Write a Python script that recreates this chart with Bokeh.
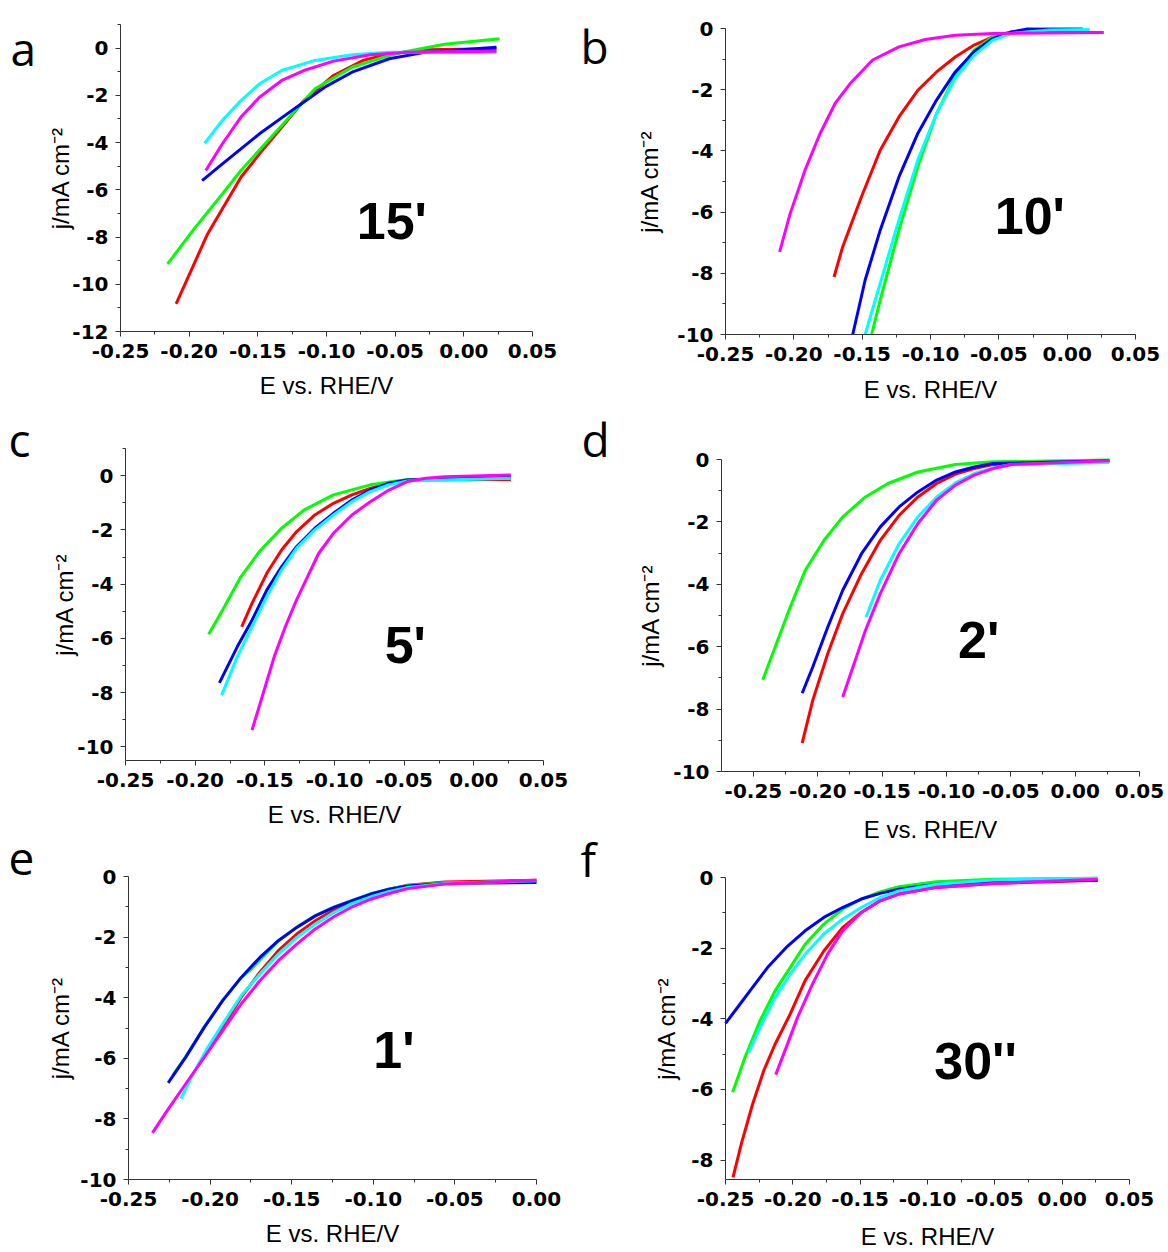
from bokeh.plotting import figure
from bokeh.models import FixedTicker, Label, Range1d, LinearAxis
from bokeh.embed import file_html
from bokeh.resources import INLINE

COLORS = {"red": "#FF0000", "green": "#00FF00", "blue": "#0000FF", "cyan": "#00FFFF", "magenta": "#FF00FF"}
ORDER = ["red", "green", "blue", "cyan", "magenta"]

# ---------------- panel a (15') ----------------
A_RED_E = [-0.2095, -0.1866, -0.1623, -0.1488, -0.1326, -0.1165, -0.0949, -0.0733, -0.0544, -0.0274, 0.0238]
A_RED_J = [-10.83, -7.87, -5.47, -4.48, -3.35, -2.22, -1.16, -0.52, -0.24, -0.07, -0.03]
A_GREEN_E = [-0.2157, -0.1974, -0.1758, -0.1623, -0.1326, -0.1084, -0.0814, -0.0544, -0.0409, -0.0140, 0.0260]
A_GREEN_J = [-9.14, -7.73, -6.17, -5.18, -3.28, -1.72, -0.81, -0.31, -0.13, 0.16, 0.40]
A_BLUE_E = [-0.1906, -0.1758, -0.1488, -0.1218, -0.1003, -0.0814, -0.0544, -0.0274, 0.0238]
A_BLUE_J = [-5.61, -4.90, -3.63, -2.50, -1.62, -1.02, -0.45, -0.17, 0.04]
A_CYAN_E = [-0.1887, -0.1758, -0.1623, -0.1488, -0.1326, -0.1084, -0.0814, -0.0544, 0.0238]
A_CYAN_J = [-4.03, -3.06, -2.22, -1.51, -0.95, -0.52, -0.28, -0.17, -0.17]
A_MAGENTA_E = [-0.1879, -0.1758, -0.1623, -0.1488, -0.1326, -0.1165, -0.0949, -0.0679, -0.0409, 0.0238]
A_MAGENTA_J = [-5.18, -4.05, -2.92, -2.08, -1.37, -0.95, -0.55, -0.28, -0.18, -0.13]

# ---------------- panel b (10') ----------------
B_RED_E = [-0.1706, -0.1643, -0.1505, -0.1368, -0.1231, -0.1093, -0.0956, -0.0819, -0.0681, -0.0544, -0.0407, 0.0266]
B_RED_J = [-8.12, -7.14, -5.50, -3.98, -2.89, -2.02, -1.42, -0.93, -0.54, -0.27, -0.11, -0.13]
B_GREEN_E = [-0.1431, -0.1368, -0.1231, -0.1093, -0.0956, -0.0819, -0.0681, -0.0544, -0.0407, -0.0132, 0.0115]
B_GREEN_J = [-10.0, -8.88, -6.59, -4.52, -2.78, -1.53, -0.71, -0.27, -0.11, -0.02, 0.00]
B_BLUE_E = [-0.1569, -0.1478, -0.1368, -0.1231, -0.1093, -0.0956, -0.0819, -0.0681, -0.0544, -0.0407, -0.0297, 0.0100]
B_BLUE_J = [-10.0, -8.22, -6.59, -4.85, -3.43, -2.34, -1.42, -0.76, -0.33, -0.11, -0.02, -0.03]
B_CYAN_E = [-0.1478, -0.1368, -0.1231, -0.1093, -0.0956, -0.0819, -0.0681, -0.0544, -0.0407, -0.0132, 0.0165]
B_CYAN_J = [-10.0, -8.33, -6.26, -4.30, -2.78, -1.63, -0.87, -0.38, -0.16, -0.05, -0.03]
B_MAGENTA_E = [-0.2104, -0.2027, -0.1918, -0.1808, -0.1698, -0.1588, -0.1423, -0.1231, -0.1038, -0.0819, -0.0544, 0.0266]
B_MAGENTA_J = [-7.30, -6.05, -4.63, -3.43, -2.45, -1.80, -1.03, -0.60, -0.36, -0.22, -0.16, -0.13]

# ---------------- panel c (5') ----------------
C_RED_E = [-0.1666, -0.1592, -0.1486, -0.1380, -0.1273, -0.1141, -0.1008, -0.0875, -0.0743, -0.0610, -0.0477, 0.0266]
C_RED_J = [-5.57, -4.71, -3.60, -2.74, -2.07, -1.45, -1.02, -0.71, -0.47, -0.28, -0.16, -0.14]
C_GREEN_E = [-0.1903, -0.1804, -0.1672, -0.1539, -0.1380, -0.1220, -0.1008, -0.0743, -0.0477, 0.0266]
C_GREEN_J = [-5.85, -4.96, -3.73, -2.80, -1.94, -1.27, -0.71, -0.34, -0.14, -0.10]
C_BLUE_E = [-0.1826, -0.1698, -0.1592, -0.1486, -0.1380, -0.1273, -0.1141, -0.1008, -0.0875, -0.0743, -0.0610, -0.0477, 0.0266]
C_BLUE_J = [-7.64, -6.31, -5.33, -4.22, -3.36, -2.62, -1.94, -1.39, -0.90, -0.53, -0.28, -0.16, -0.06]
C_CYAN_E = [-0.1810, -0.1698, -0.1592, -0.1486, -0.1380, -0.1273, -0.1141, -0.1008, -0.0875, -0.0743, -0.0610, -0.0477, 0.0266]
C_CYAN_J = [-8.09, -6.68, -5.57, -4.46, -3.48, -2.68, -2.00, -1.45, -0.96, -0.59, -0.34, -0.20, -0.10]
C_MAGENTA_E = [-0.1592, -0.1512, -0.1433, -0.1353, -0.1273, -0.1194, -0.1114, -0.1008, -0.0875, -0.0743, -0.0610, -0.0477, -0.0344, -0.0212, 0.0266]
C_MAGENTA_J = [-9.38, -8.03, -6.68, -5.57, -4.59, -3.73, -2.87, -2.13, -1.45, -0.96, -0.53, -0.22, -0.10, -0.04, 0.02]

# ---------------- panel d (2') ----------------
D_RED_E = [-0.2121, -0.2039, -0.1922, -0.1806, -0.1660, -0.1514, -0.1368, -0.1222, -0.1076, -0.0930, -0.0784, -0.0638, 0.0266]
D_RED_J = [-9.09, -7.72, -6.22, -4.94, -3.66, -2.59, -1.79, -1.20, -0.77, -0.47, -0.29, -0.16, -0.04]
D_GREEN_E = [-0.2427, -0.2331, -0.2214, -0.2097, -0.1951, -0.1806, -0.1630, -0.1455, -0.1222, -0.0930, -0.0638, 0.0266]
D_GREEN_J = [-7.06, -6.01, -4.73, -3.55, -2.59, -1.84, -1.20, -0.77, -0.40, -0.16, -0.07, -0.02]
D_BLUE_E = [-0.2121, -0.2039, -0.1922, -0.1806, -0.1660, -0.1514, -0.1368, -0.1222, -0.1076, -0.0930, -0.0784, -0.0638, 0.0266]
D_BLUE_J = [-7.49, -6.65, -5.37, -4.19, -3.02, -2.16, -1.52, -1.04, -0.66, -0.40, -0.24, -0.13, -0.04]
D_CYAN_E = [-0.1625, -0.1514, -0.1368, -0.1222, -0.1076, -0.0930, -0.0784, -0.0638, -0.0492, 0.0266]
D_CYAN_J = [-5.05, -3.87, -2.70, -1.84, -1.20, -0.75, -0.45, -0.27, -0.16, -0.10]
D_MAGENTA_E = [-0.1806, -0.1718, -0.1630, -0.1514, -0.1368, -0.1222, -0.1076, -0.0930, -0.0784, -0.0638, -0.0492, 0.0266]
D_MAGENTA_J = [-7.61, -6.55, -5.48, -4.30, -3.02, -2.05, -1.30, -0.82, -0.50, -0.29, -0.16, -0.04]

# ---------------- panel e (1') ----------------
E_RED_E = [-0.2000, -0.1922, -0.1809, -0.1695, -0.1582, -0.1469, -0.1355, -0.1242, -0.1129, -0.1015, -0.0902, -0.0789, -0.0562, 0.0000]
E_RED_J = [-5.65, -4.97, -3.98, -3.16, -2.45, -1.90, -1.46, -1.11, -0.82, -0.60, -0.42, -0.29, -0.18, -0.12]
E_GREEN_E = [-0.2230, -0.2149, -0.2035, -0.1922, -0.1809, -0.1741, -0.1582, -0.1469, -0.1355, -0.1242, -0.1129, -0.1015, -0.0902, -0.0789, -0.0562, 0.0000]
E_GREEN_J = [-6.57, -5.94, -4.96, -4.08, -3.33, -3.02, -2.12, -1.67, -1.29, -1.01, -0.79, -0.57, -0.41, -0.30, -0.21, -0.17]
E_BLUE_E = [-0.2257, -0.2149, -0.2035, -0.1922, -0.1809, -0.1695, -0.1582, -0.1469, -0.1355, -0.1242, -0.1129, -0.1015, -0.0902, -0.0789, -0.0562, 0.0000]
E_BLUE_J = [-6.81, -5.96, -4.97, -4.09, -3.33, -2.67, -2.12, -1.68, -1.30, -1.02, -0.80, -0.58, -0.42, -0.31, -0.23, -0.20]
E_CYAN_E = [-0.2178, -0.2103, -0.2013, -0.1922, -0.1809, -0.1695, -0.1582, -0.1469, -0.1355, -0.1242, -0.1129, -0.1015, -0.0902, -0.0789, -0.0562, 0.0000]
E_CYAN_J = [-7.33, -6.51, -5.63, -4.86, -3.93, -3.22, -2.56, -2.01, -1.57, -1.19, -0.89, -0.67, -0.49, -0.36, -0.23, -0.14]
E_MAGENTA_E = [-0.2353, -0.2262, -0.2149, -0.2035, -0.1922, -0.1809, -0.1695, -0.1582, -0.1469, -0.1355, -0.1242, -0.1129, -0.1015, -0.0902, -0.0789, -0.0562, 0.0000]
E_MAGENTA_J = [-8.46, -7.72, -6.84, -5.96, -5.08, -4.20, -3.44, -2.78, -2.23, -1.73, -1.33, -1.00, -0.75, -0.56, -0.40, -0.25, -0.12]

# ---------------- panel f (30'') ----------------
F_RED_E = [-0.2444, -0.2383, -0.2299, -0.2216, -0.2132, -0.2020, -0.1909, -0.1770, -0.1631, -0.1492, -0.1352, -0.1213, -0.0935, -0.0517, 0.0263]
F_RED_J = [-8.49, -7.55, -6.42, -5.47, -4.72, -3.87, -2.92, -2.08, -1.42, -0.99, -0.66, -0.47, -0.28, -0.17, -0.08]
F_GREEN_E = [-0.2447, -0.2355, -0.2244, -0.2132, -0.2020, -0.1909, -0.1770, -0.1631, -0.1492, -0.1352, -0.1213, -0.0935, -0.0517, 0.0263]
F_GREEN_J = [-6.08, -5.09, -4.06, -3.21, -2.55, -1.89, -1.32, -0.90, -0.61, -0.41, -0.26, -0.12, -0.05, -0.02]
F_BLUE_E = [-0.2500, -0.2411, -0.2299, -0.2188, -0.2049, -0.1909, -0.1770, -0.1631, -0.1492, -0.1352, -0.1213, -0.0935, -0.0517, 0.0263]
F_BLUE_J = [-4.13, -3.68, -3.11, -2.55, -1.98, -1.51, -1.13, -0.85, -0.61, -0.45, -0.33, -0.19, -0.11, -0.08]
F_CYAN_E = [-0.2327, -0.2244, -0.2132, -0.2020, -0.1909, -0.1770, -0.1631, -0.1492, -0.1352, -0.1213, -0.0935, -0.0517, 0.0263]
F_CYAN_J = [-4.95, -4.25, -3.40, -2.74, -2.17, -1.60, -1.18, -0.85, -0.57, -0.38, -0.19, -0.07, -0.02]
F_MAGENTA_E = [-0.2127, -0.2049, -0.1965, -0.1854, -0.1742, -0.1631, -0.1492, -0.1352, -0.1213, -0.0935, -0.0517, 0.0263]
F_MAGENTA_J = [-5.58, -4.81, -3.96, -3.02, -2.17, -1.51, -0.99, -0.66, -0.47, -0.28, -0.17, -0.05]

# ---------------- ticks & texts ----------------
X_TICKS = [-0.25, -0.20, -0.15, -0.10, -0.05, 0.00, 0.05]
X_LABELS = ["-0.25", "-0.20", "-0.15", "-0.10", "-0.05", "0.00", "0.05"]
X_MINOR = [-0.275, -0.225, -0.175, -0.125, -0.075, -0.025, 0.025]
Y_TICKS = [0, -2, -4, -6, -8, -10, -12]
Y_LABELS = ["0", "-2", "-4", "-6", "-8", "-10", "-12"]
Y_MINOR = [1, -1, -3, -5, -7, -9, -11]

PANEL_TEXT = ["15'", "10'", "5'", "2'", "1'", "30''"]
LETTERS = ["a", "b", "c", "d", "e", "f"]
X_TITLE = "E vs. RHE/V"
Y_TITLE = "j/mA cm\u207b\u00b2"

# ---------------- layout (page pixels) ----------------
CX0, CY0, CW, CH = 0, 0, 1164, 1250          # canvas on the page
# frame of each panel: left, right, top, bottom (page px); data ranges; label standoffs
LAYOUT = {
    "A": dict(box=(120, 532, 24, 331), xr=(-0.25, 0.05), yr=(-12, 1), text_at=(-0.078, -7.30),
              letter_at=(10, 47), xs=11, ys=-5),
    "B": dict(box=(725, 1135, 28, 334), xr=(-0.25, 0.05), yr=(-10, 0), text_at=(-0.053, -6.13),
              letter_at=(580, 45), xs=12, ys=11),
    "C": dict(box=(125, 543, 448, 760), xr=(-0.25, 0.05), yr=(-10.5, 1), text_at=(-0.064, -6.25),
              letter_at=(8, 438), xs=11, ys=-4),
    "D": dict(box=(721, 1139, 459, 771), xr=(-0.2748, 0.05), yr=(-10, 0), text_at=(-0.091, -5.80),
              letter_at=(581, 438), xs=15, ys=6),
    "E": dict(box=(128, 536, 876, 1179), xr=(-0.25, 0.0), yr=(-10, 0), text_at=(-0.100, -5.74),
              letter_at=(8, 858), xs=11, ys=3),
    "F": dict(box=(725, 1129, 877, 1179), xr=(-0.25, 0.05), yr=(-8.55, 0), text_at=(-0.095, -5.19),
              letter_at=(580, 858), xs=14, ys=8),
}


def extend(v0, v1, p0, p1, c0, c1):
    """values at page px c0, c1 for a linear map with v0 at p0 and v1 at p1"""
    s = (v1 - v0) / (p1 - p0)
    return v0 + (c0 - p0) * s, v0 + (c1 - p0) * s


p = figure(width=CW, height=CH, x_range=Range1d(CX0, CX0 + CW), y_range=Range1d(CY0 + CH, CY0),
           x_axis_location=None, y_axis_location=None,
           min_border_left=0, min_border_right=0, min_border_top=0, min_border_bottom=0,
           output_backend="svg", toolbar_location=None)
p.outline_line_color = None
p.grid.visible = False
p.background_fill_color = "white"
p.border_fill_color = "white"


def style_axis(ax):
    ax.axis_line_color = "#333333"
    ax.axis_line_width = 1
    ax.major_tick_line_color = "#333333"
    ax.minor_tick_line_color = "#333333"
    ax.major_tick_in = 0
    ax.major_tick_out = 5
    ax.minor_tick_in = 0
    ax.minor_tick_out = 3
    ax.major_label_text_font = "DejaVu Sans"
    ax.major_label_text_font_style = "bold"
    ax.major_label_text_font_size = "20px"
    ax.major_label_text_color = "black"
    ax.major_label_standoff = 7
    ax.axis_label_text_font = "Liberation Sans"
    ax.axis_label_text_font_style = "normal"
    ax.axis_label_text_font_size = "24px"
    ax.axis_label_text_color = "black"


for i, key in enumerate(["A", "B", "C", "D", "E", "F"]):
    cfg = LAYOUT[key]
    L, R, T, B = cfg["box"]
    xr, yr = cfg["xr"], cfg["yr"]
    xs, xe = extend(xr[0], xr[1], L, R, CX0, CX0 + CW)
    ys, ye = extend(yr[0], yr[1], B, T, CY0 + CH, CY0)
    xn, yn = "x" + key, "y" + key
    p.extra_x_ranges[xn] = Range1d(xs, xe)
    p.extra_y_ranges[yn] = Range1d(ys, ye)

    g = globals()
    for c in ORDER:
        p.line(g[f"{key}_{c.upper()}_E"], g[f"{key}_{c.upper()}_J"], line_color=COLORS[c], line_width=3,
               x_range_name=xn, y_range_name=yn)

    xt = [t for t in X_TICKS if xr[0] - 1e-9 <= t <= xr[1] + 1e-9]
    xl = {t: l for t, l in zip(X_TICKS, X_LABELS) if t in xt}
    xm = [t for t in X_MINOR if xr[0] - 1e-9 <= t <= xr[1] + 1e-9]
    yt = [t for t in Y_TICKS if yr[0] - 1e-9 <= t <= yr[1] + 1e-9]
    yl = {t: l for t, l in zip(Y_TICKS, Y_LABELS) if t in yt}
    ym = [t for t in Y_MINOR if yr[0] - 1e-9 <= t <= yr[1] + 1e-9]

    xax = LinearAxis(x_range_name=xn, y_range_name=yn, fixed_location=yr[0], bounds=xr,
                     ticker=FixedTicker(ticks=xt, minor_ticks=xm), major_label_overrides=xl,
                     axis_label=X_TITLE)
    yax = LinearAxis(x_range_name=xn, y_range_name=yn, fixed_location=xr[0], bounds=yr,
                     ticker=FixedTicker(ticks=yt, minor_ticks=ym), major_label_overrides=yl,
                     axis_label=Y_TITLE)
    style_axis(xax)
    style_axis(yax)
    xax.axis_label_standoff = cfg["xs"]
    yax.axis_label_standoff = cfg["ys"]
    p.add_layout(xax, "below")
    p.add_layout(yax, "left")

    tx, ty = cfg["text_at"]
    p.add_layout(Label(x=tx, y=ty, x_range_name=xn, y_range_name=yn, text=PANEL_TEXT[i],
                       text_font="Liberation Sans", text_font_style="bold", text_font_size="52px",
                       text_color="black", text_align="left", text_baseline="alphabetic"))
    lx, ly = cfg["letter_at"]
    p.add_layout(Label(x=lx, y=ly, text=LETTERS[i], text_font="Open Sans", text_font_size="46px",
                       text_color="black", text_align="left", text_baseline="alphabetic"))

open("out.html", "w").write(file_html(p, INLINE))
